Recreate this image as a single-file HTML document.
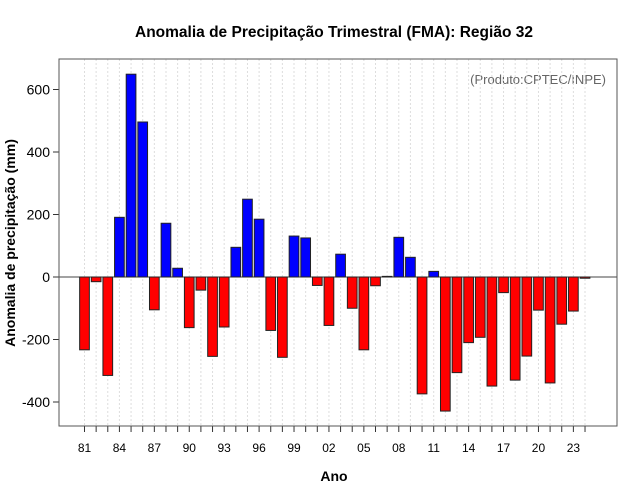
<!DOCTYPE html>
<html><head><meta charset="utf-8"><style>
body{margin:0;background:#fff;}
svg{display:block;font-family:"Liberation Sans",sans-serif;}
</style></head><body>
<svg id="chart" width="640" height="500">
<text x="334" y="37" text-anchor="middle" font-size="15.5" font-weight="bold">Anomalia de Precipitação Trimestral (FMA): Região 32</text>
<text x="334" y="481" text-anchor="middle" font-size="14" font-weight="bold">Ano</text>
<text transform="translate(15,243) rotate(-90)" text-anchor="middle" font-size="14" font-weight="bold">Anomalia de precipitação (mm)</text>
<text x="606" y="84" text-anchor="end" font-size="13" fill="#666">(Produto:CPTEC/INPE)</text>
<g id="grid"></g><g id="bars"></g><g id="axes"></g>
<rect x="59" y="59" width="558" height="367" fill="none" stroke="#555"/>
</svg>
<script>
const years = [81,82,83,84,85,86,87,88,89,90,91,92,93,94,95,96,97,98,99,0,1,2,3,4,5,6,7,8,9,10,11,12,13,14,15,16,17,18,19,20,21,22,23,24];
const values = [-233,-15,-315,191,649,496,-105,172,28,-162,-42,-254,-160,95,249,185,-171,-257,131,125,-27,-155,73,-100,-233,-28,2,127,63,-374,18,-429,-306,-210,-193,-349,-50,-330,-253,-106,-339,-151,-109,-4];
const yTicks = [-400,-200,0,200,400,600];
const NS='http://www.w3.org/2000/svg';
const x0=84.5, step=11.64, bw=9.7;
const xPos=i=>x0+i*step;
const yPos=v=>277-v*0.3125;
function mk(tag,attrs,parent){const e=document.createElementNS(NS,tag);for(const k in attrs)e.setAttribute(k,attrs[k]);document.getElementById(parent).appendChild(e);return e;}
years.forEach((yr,i)=>{
  const g=mk('line',{x1:xPos(i),x2:xPos(i),y1:59,y2:426,stroke:'#ddd','stroke-dasharray':'2,2'},'grid');
  
  
  const t=mk('line',{x1:xPos(i),x2:xPos(i),y1:426,y2:432,stroke:'#333'},'axes');
  
  
  if(i%3===0){
    const l=mk('text',{x:xPos(i),y:452,'text-anchor':'middle','font-size':'12'},'axes');
    l.textContent=String(yr).padStart(2,'0');
    
    
  }
});
mk('line',{x1:59,x2:617,y1:277,y2:277,stroke:'#444'},'grid');
values.forEach((v,i)=>{
  const y1=yPos(Math.max(v,0)), y2=yPos(Math.min(v,0));
  const r=mk('rect',{x:xPos(i)-bw/2,y:y1,width:bw,height:Math.max(y2-y1,0.5),fill:v>=0?'#0000ff':'#ff0000',stroke:'#222','stroke-width':1},'bars');
  
  
});
yTicks.forEach(v=>{
  const t=mk('line',{x1:53,x2:59,y1:yPos(v),y2:yPos(v),stroke:'#333'},'axes');
  
  
  const l=mk('text',{x:50,y:yPos(v)+5,'text-anchor':'end','font-size':'14'},'axes');
  l.textContent=v;
  
  
});
</script>
</body></html>
